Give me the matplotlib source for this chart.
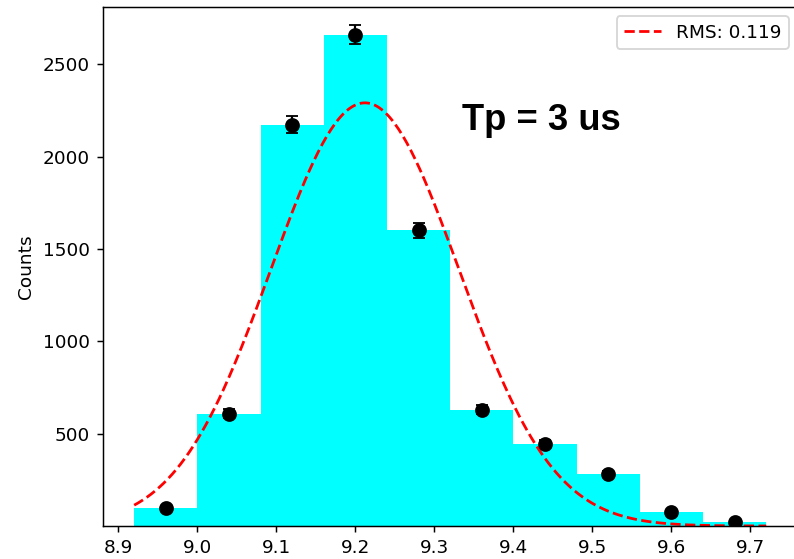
import numpy as np
import matplotlib
matplotlib.use("Agg")
import matplotlib.pyplot as plt

# Data
bin_edges = [8.92, 9.00, 9.08, 9.16, 9.24, 9.32, 9.40, 9.48, 9.56, 9.64, 9.72]
counts = [97, 608, 2172, 2660, 1601, 630, 446, 282, 74, 20]
fit_mean = 9.212
fit_sigma = 0.119
fit_amp = 2291
legend_label = "RMS: 0.119"
annotation = "Tp = 3 us"
yticks = [500, 1000, 1500, 2000, 2500]
xticks = [8.9, 9.0, 9.1, 9.2, 9.3, 9.4, 9.5, 9.6, 9.7]

dpi = 133
fig = plt.figure(figsize=(794 / dpi, 559 / dpi), dpi=dpi)
ax = fig.add_axes([0.1292, 0.0590, 0.8757, 0.9285])

edges = np.array(bin_edges)
cnt = np.array(counts, dtype=float)
centers = (edges[:-1] + edges[1:]) / 2
widths = np.diff(edges)

ax.bar(edges[:-1], cnt, width=widths, align='edge', color='cyan', linewidth=0)
ax.errorbar(centers, cnt, yerr=np.sqrt(cnt), fmt='o', color='black',
            markersize=7, capsize=3.5, elinewidth=1.2)

xs = np.linspace(edges[0], edges[-1], 300)
ys = fit_amp * np.exp(-(xs - fit_mean) ** 2 / (2 * fit_sigma ** 2))
ax.plot(xs, ys, 'r--', label=legend_label)

ax.set_xlim(8.88, 9.76)
ax.set_ylim(0, 2810)
ax.set_yticks(yticks)
ax.set_xticks(xticks)
ax.set_ylabel("Counts")
ax.legend(loc='upper right')

ax.text(9.435, 2195, annotation, fontsize=19.7, fontweight='bold',
        family='Liberation Sans', ha='center', va='center')

fig.savefig("out.png", dpi=dpi)
